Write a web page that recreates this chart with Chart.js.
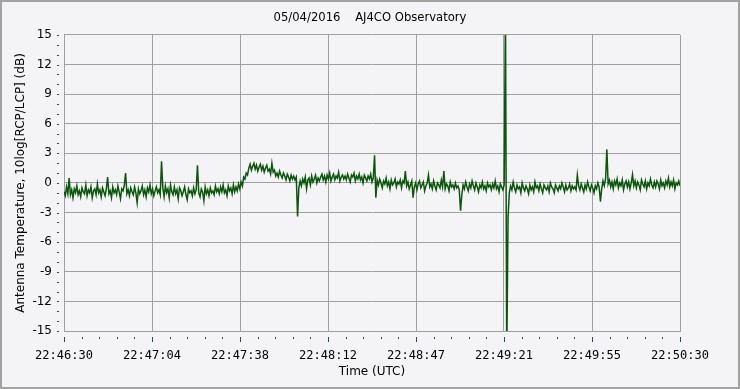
<!DOCTYPE html>
<html>
<head>
<meta charset="utf-8">
<script src="https://cdn.jsdelivr.net/npm/chart.js@4"></script>
<style>
  body { margin: 0; background: #f4f4f6; }
  canvas { display: block; }
</style>
</head>
<body>
<canvas id="chart" width="740" height="389"></canvas>
<script>
const chartTitle = '05/04/2016    AJ4CO Observatory';
const tickLabels = ['22:46:30', '22:47:04', '22:47:38', '22:48:12', '22:48:47', '22:49:21', '22:49:55', '22:50:30'];
const spanSec = 240;
const sampleStep = 0.5;   // seconds between samples

// 10log[RCP/LCP] in dB, every half second
const ratioDb = [
  -0.9, -1.3, -0.4, -1.1, 0.5, -1.2, -0.7, -1.5, -0.6, -1.0, -0.3, -1.2, -0.8, -1.4, -0.5, -0.9, -1.1, -0.2, -1.3, -0.7,
  -1.0, -0.4, -1.5, -0.8, -0.6, -1.2, -0.1, -1.0, -0.7, -1.4, -0.5, -0.9, -1.3, -0.6, 0.6, -1.1, -0.8, -1.5, -0.4, -1.0,
  -0.7, -1.2, -0.3, -0.9, -1.6, -0.6, -0.8, -0.2, 1.0, -1.1, -0.7, -1.3, -0.5, -0.9, -1.2, -0.4, -1.0, -2.0, -0.6, -1.1,
  -0.8, -0.3, -1.2, -0.7, -1.4, -0.5, -0.9, -0.2, -1.1, -0.6, -1.3, -0.8, -0.4, -1.0, -0.7, -1.2, 2.2, -0.5, -1.4, -0.3,
  -1.0, -0.6, -1.5, -0.2, -0.9, -1.2, -0.4, -1.1, -0.7, -1.6, -0.5, -0.8, -1.3, -0.9, -0.4, -1.2, -1.7, -0.6, -1.0, -0.8,
  -1.3, -0.5, -1.1, -0.7, 1.8, -1.0, -1.4, -0.6, -0.9, -1.8, -0.4, -1.1, -0.7, -1.3, -0.5, -1.0, -0.8, -1.2, -0.3, -0.9,
  -0.6, -1.1, -0.4, -0.9, -0.2, -1.0, -0.7, -1.3, -0.3, -0.8, -0.5, -1.1, -0.2, -0.9, -0.4, -0.8, -0.1, -0.6,
  0.1, -0.3, 0.6, 0.4, 1.0, 0.8, 1.5, 1.9, 1.3, 1.7, 2.0, 1.4, 1.8, 1.2, 1.6, 1.9, 1.3, 1.7, 1.1, 1.5, 1.8, 1.2,
  1.4, 0.9, 2.0, 1.1, 1.3, 0.7, 1.0, 0.6, 1.2, 0.8, 0.5, 1.0, 0.7, 0.3, 0.9, 0.6, 0.2, 0.8, 0.4, 0.7, 0.3, 0.6,
  -3.4, -0.5,
  0.2, -0.3, 0.4, 0.0, 0.6, -0.6, 0.3, 0.5, -0.2, 0.7, 0.1, 0.4, 0.8, 0.0, 0.5, 0.2,
  0.6, 0.9, 0.3, 0.7, 0.1, 0.8, 0.4, 1.0, 0.2, 0.6, 0.9, 0.3, 0.7, 0.5, 1.1, 0.2, 0.6, 0.8, 0.4, 0.7,
  0.3, 0.9, 0.5, 0.1, 0.8, 0.6, 1.0, 0.2, 0.7, 0.4, 0.9, 0.3, 0.6, 0.0, 0.8, 0.5, 0.2, 0.7, 0.4, 0.9, 0.1, 0.5,
  2.8, -1.5,
  0.3, -0.2, 0.4, 0.0, -0.5, 0.2, -0.1, 0.5, -0.3, 0.1, -0.6, 0.3, -0.2, 0.0, 0.4, -0.4, 0.1, -0.1, 0.3, -0.5, 0.2, 0.0,
  1.2,
  -0.3, 0.1, -0.6, -0.2, 0.2, -1.5, -0.4, 0.0, -0.7, -0.1, 0.2, -0.5, -0.2, 0.1, -0.8, -0.3, 0.0,
  0.8,
  -0.4, -0.1, -0.6, 0.2, -0.3, -0.7, 0.0, -0.2, -0.5, 0.3, -0.4, 1.2, -0.6, -0.1, -0.3, -0.8, 0.1, -0.4, -0.2, -0.6, 0.0, -0.5, -0.3, -0.7,
  -2.8, -1.2,
  -0.2, -0.6, 0.1, -0.4, -0.8, -0.1, -0.5, 0.2, -0.3, -0.7, 0.0, -0.4, -0.9, -0.2, -0.5, 0.1, -0.6, -0.3, -0.8, 0.0,
  -0.4, -0.2, -0.7, -0.1, -0.5, 0.2, -0.6, -0.3, -0.9, -0.1, -0.4, -0.7, -0.2,
  18, -18, -3.5,
  -1.0, -0.3, -0.7, 0.1, -0.5, -0.9, -0.2, -0.6, -0.4, -1.0, 0.0, -0.5, -0.8, -0.3, -0.6, -1.1, -0.2, -0.7, -0.4, -0.9,
  0.1, -0.5, -0.3, -0.8, -0.1, -0.6, -1.0, -0.2, -0.5, -0.7, -0.3, -0.9, 0.0, -0.4, -0.6, -1.0, -0.2, -0.5, -0.8, -0.3,
  -0.6, 0.0, -0.4, -0.9, -0.2, -0.7, -0.5, -0.1, -0.8, -0.3, -0.6, -0.4, -0.7,
  0.8,
  -0.3, -0.7, -0.1, -0.5, -0.9, -0.2, -0.6, 0.1, -0.4, -0.8, -0.2, -0.5, -1.0, -0.3, -0.6, 0.0, -0.4,
  -1.9,
  -0.6, 0.2, -0.3, 0.4,
  3.4,
  -0.1, 0.3, -0.4, 0.1, -0.6, 0.2, -0.2, 0.4, -0.5, 0.0, -0.3, 0.3, -0.7, -0.1, 0.2, -0.4, 0.1, -0.6, 0.0, 0.85,
  -0.3, 0.2, -0.5, 0.1, -0.2, -0.7, 0.3, -0.1, -0.4, 0.2, -0.6, 0.0, -0.3, 0.4, -0.2, -0.5, 0.1, -0.4, 0.2, -0.1,
  -0.6, 0.3, -0.3, 0.0, -0.5, 0.2, -0.2, 0.5, -0.4, 0.1, -0.3, 0.3, -0.6, 0.0, -0.2, 0.2, -0.3
];

const gridColor = '#a0a0a0';
const textColor = '#000';

// background, outer frame and the little tick marks outside the plot
const frame = {
  id: 'frame',
  beforeDraw(chart) {
    const ctx = chart.ctx;
    ctx.save();
    ctx.fillStyle = '#f4f4f6';
    ctx.fillRect(0, 0, chart.width, chart.height);
    ctx.strokeStyle = '#a3a3a3';
    ctx.lineWidth = 2;
    ctx.strokeRect(1, 1, chart.width - 2, chart.height - 2);
    ctx.restore();
  },
  afterDraw(chart) {
    const ctx = chart.ctx;
    const xs = chart.scales.x, ys = chart.scales.y;
    const area = chart.chartArea;
    ctx.save();
    ctx.lineWidth = 1;
    const n = (tickLabels.length - 1) * 5;
    for (let k = 0; k <= n; k++) {
      const px = Math.round(xs.getPixelForValue(k * spanSec / n)) + 0.5;
      const major = k % 5 === 0;
      ctx.strokeStyle = major ? '#2b4a6b' : '#444';
      ctx.beginPath();
      ctx.moveTo(px, area.bottom + 6);
      ctx.lineTo(px, area.bottom + (major ? 11 : 8));
      ctx.stroke();
    }
    ctx.fillStyle = '#444';
    for (let v = -15; v <= 15; v++) {
      const py = Math.round(ys.getPixelForValue(v));
      ctx.fillRect(area.left - 7, py, 2, 1);
    }
    ctx.restore();
  }
};

new Chart(document.getElementById('chart'), {
  type: 'line',
  data: {
    datasets: [{
      data: ratioDb.map((v, i) => ({x: i * sampleStep, y: v})),
      borderColor: '#0a560a',
      borderWidth: 1.5,
      pointRadius: 0,
      tension: 0
    }]
  },
  options: {
    responsive: false,
    animation: false,
    layout: {padding: 0},
    plugins: {
      legend: {display: false},
      tooltip: {enabled: false},
      title: {
        display: true,
        text: chartTitle,
        color: textColor,
        font: {family: 'DejaVu Sans', size: 11.6, weight: 'normal'},
        padding: {top: 11, bottom: 10}
      }
    },
    scales: {
      x: {
        type: 'linear',
        min: 0,
        max: spanSec,
        afterFit(s) { s.height = 58; },
        afterBuildTicks(s) {
          s.ticks = tickLabels.map((_, k) => ({value: k * spanSec / (tickLabels.length - 1)}));
        },
        ticks: {
          color: textColor,
          font: {family: 'DejaVu Sans Mono', size: 12},
          padding: 18,
          maxRotation: 0,
          autoSkip: false,
          callback: (v, i) => tickLabels[i]
        },
        grid: {color: gridColor, drawTicks: false},
        border: {color: gridColor},
        title: {
          display: true,
          text: 'Time (UTC)',
          color: textColor,
          font: {family: 'DejaVu Sans', size: 12},
          padding: {top: 0, bottom: 10}
        }
      },
      y: {
        min: -15,
        max: 15,
        afterFit(s) { s.width = 64; },
        ticks: {
          stepSize: 3,
          color: textColor,
          font: {family: 'DejaVu Sans', size: 12},
          padding: 12
        },
        grid: {color: gridColor, drawTicks: false},
        border: {color: gridColor},
        title: {
          display: true,
          text: 'Antenna Temperature, 10log[RCP/LCP] (dB)',
          color: textColor,
          font: {family: 'DejaVu Sans', size: 12},
          padding: {top: 14, bottom: 0}
        }
      },
      // empty strip on the right, keeps the title centred on the whole picture
      spacer: {
        type: 'linear',
        position: 'right',
        display: true,
        afterFit(s) { s.width = 60; },
        ticks: {display: false},
        grid: {display: false, drawTicks: false},
        border: {display: false}
      }
    }
  },
  plugins: [frame]
});
</script>
</body>
</html>
